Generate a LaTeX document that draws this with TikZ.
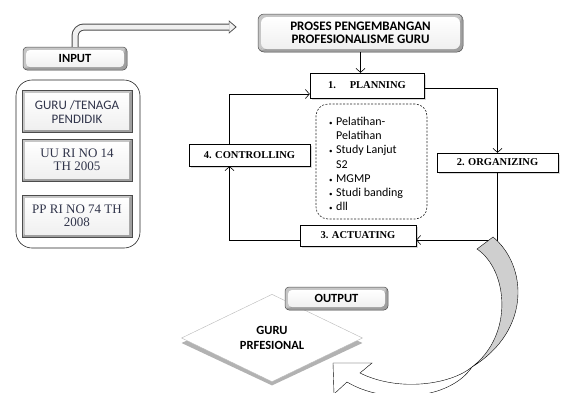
\documentclass[tikz,border=0pt]{standalone}
\usepackage{fontspec}
\setmainfont{Liberation Serif}
\setsansfont{Carlito}
\usetikzlibrary{arrows.meta,positioning,shapes.geometric,shadows}
\definecolor{boxtext}{HTML}{30344A}
\definecolor{bandgray}{HTML}{CFCFCF}
% bevelled face, #1 = width of the bevel
\newcommand\bevelfill[1]{%
  \fill[gray!45] (path picture bounding box.south west) rectangle (path picture bounding box.north east);
  \fill[gray!75] (path picture bounding box.south west) -- (path picture bounding box.south east)
      -- (path picture bounding box.north east) -- ([shift={(-#1,-#1)}]path picture bounding box.north east)
      -- ([shift={(-#1,#1)}]path picture bounding box.south east)
      -- ([shift={(#1,#1)}]path picture bounding box.south west) -- cycle;
  \shade[top color=white, bottom color=gray!12]
      ([shift={(#1,-#1)}]path picture bounding box.north west) rectangle
      ([shift={(-#1,#1)}]path picture bounding box.south east);}
\newcommand\itm{\makebox[7pt][l]{\scriptsize\textbullet}}
\newcommand\itmgap{\hspace*{7pt}}
\tikzset{
       arr/.style = {-{Straight Barb[length=4pt,width=9pt]}, semithick},  % <--- loop arrows
   process/.style = {draw, thin, fill=white, inner sep=1pt,
                     font=\fontsize{10.5}{12}\selectfont\bfseries,
                     drop shadow={shadow xshift=2pt, shadow yshift=-2pt, opacity=.3}},
     bevel/.style = {draw=black!70, line width=.5pt, align=center, inner sep=1pt,
                     path picture={\bevelfill{3pt}}},
    rbevel/.style = {bevel, rounded corners=4pt,
                     font=\sffamily\bfseries\fontsize{12.5}{13}\selectfont},
   leftbox/.style = {bevel, minimum width=110pt, minimum height=42pt, text=boxtext,
                     font=\fontsize{13}{13.5}\selectfont},
   dashbox/.style = {draw=black!85, line width=.6pt, dash pattern=on 2pt off 1.5pt, rounded corners=12pt},
   outdiam/.style = {diamond, minimum width=181pt, minimum height=85pt, inner sep=0pt},
   pipeout/.style = {line width=7pt, draw=gray!60!black, rounded corners=9pt,
                     -{Triangle[length=8pt,width=13pt]}},
    pipein/.style = {line width=5pt, draw=gray!12, rounded corners=9pt,
                     -{Triangle[length=6pt,width=10pt]}},
}
\begin{document}
\begin{tikzpicture}[x=1pt, y=-1pt]
\useasboundingbox (0,0) rectangle (566,392);

% input column
\node[rbevel, minimum width=104pt, minimum height=23pt] (inp) at (75,58.5) {INPUT};
\node[draw=black!85, line width=.6pt, rounded corners=16pt, minimum width=124pt, minimum height=168pt] (grp) at (78,164) {};
\node[leftbox, font=\sffamily\fontsize{13}{14}\selectfont] (tenaga) at (77,111.5) {GURU /TENAGA\\PENDIDIK};
\node[leftbox] (uu) at (77,160) {UU RI NO 14\\TH 2005};
\node[leftbox] (pp) at (77,216) {PP RI NO 74 TH\\2008};

% process
\node[rbevel, rounded corners=6pt, minimum width=205pt, minimum height=38pt,
      font=\sffamily\bfseries\fontsize{13}{13.5}\selectfont] (proses) at (360.5,33)
  {PROSES PENGEMBANGAN\\PROFESIONALISME GURU};
\draw[pipeout, shorten >=21pt] (inp.north) |- ([yshift=6pt]proses.west);
\draw[pipein, shorten >=22.5pt] (inp.north) |- ([yshift=6pt]proses.west);

\node[process, minimum width=114pt, minimum height=25pt] (plan) at (367,85.5) {1.\hspace{1.3em}PLANNING};
\node[process, minimum width=121pt, minimum height=19pt] (org) at (497.5,162.5) {2. ORGANIZING};
\node[process, minimum width=116pt, minimum height=21pt] (act) at (358,235.5) {3. ACTUATING};
\node[process, minimum width=121pt, minimum height=22pt] (ctrl) at (249.5,155) {4. CONTROLLING};

\node[dashbox, minimum width=111pt, minimum height=115pt] (list) at (371.5,161.5) {};
\node[anchor=west, align=left, inner sep=0pt, font=\sffamily\fontsize{12}{14.2}\selectfont] (items) at (329,164)
  {\itm Pelatihan-\\ \itmgap Pelatihan\\ \itm Study Lanjut\\ \itmgap S2\\ \itm MGMP\\ \itm Studi banding\\ \itm dll};

\draw[arr] (proses.south) -- (proses.south |- plan.north);
\draw[arr] ([yshift=-2.5pt]plan.east) -| (org.north);
\draw[arr] (org.south) |- ([yshift=-4.5pt]act.east);
\draw[arr] ([yshift=-4.5pt]act.west) -| ([xshift=-20pt]ctrl.south);
\draw[arr] ([xshift=-20pt]ctrl.north) |- ([yshift=-8.5pt]plan.west);

% output
\node[outdiam, fill=gray!60] (profsh) at (272,343) {};
\node[outdiam, draw=gray!55, fill=white, align=center,
      font=\sffamily\bfseries\fontsize{12.5}{15}\selectfont] (prof) at (272,338) {GURU\\PRFESIONAL};
\node[rbevel, minimum width=103pt, minimum height=23pt] (out) at (336.5,298.5) {OUTPUT};

% curved block arrow
\begin{scope}
\clip (0,0) rectangle (566,392);
\draw[thin, fill=bandgray] (493,237) .. controls (527,265) and (532,330) .. (472,367)
  .. controls (514,335) and (508,270) .. (477,249) -- cycle;
\draw[thin, fill=white] (472,367) .. controls (450,385) and (398,392) .. (360,373)
  -- (372,363) -- (333,363) -- (334,394) -- (347,382)
  .. controls (385,405) and (450,400) .. (472,367) -- cycle;
\end{scope}
\end{tikzpicture}
\end{document}
